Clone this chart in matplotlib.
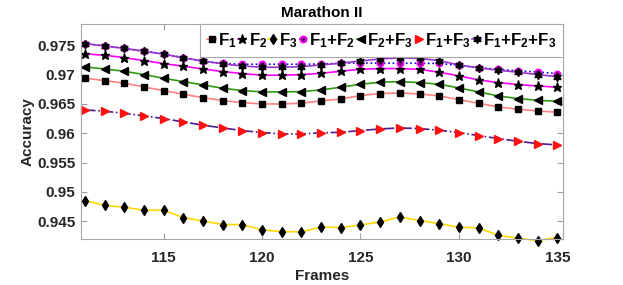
import matplotlib
matplotlib.use("Agg")
import matplotlib.pyplot as plt
from matplotlib.ticker import FixedLocator

plt.rcParams['font.family'] = ['Liberation Sans', 'DejaVu Sans']
plt.rcParams['font.weight'] = 'bold'
plt.rcParams['mathtext.fontset'] = 'custom'
plt.rcParams['mathtext.rm'] = 'Liberation Sans:bold'
plt.rcParams['mathtext.it'] = 'Liberation Sans:bold'
plt.rcParams['mathtext.bf'] = 'Liberation Sans:bold'
plt.rcParams['mathtext.default'] = 'bf'

frames = list(range(111, 136))

f1 = [0.96938, 0.96897, 0.96852, 0.96789, 0.96727, 0.96664, 0.96607, 0.96556,
      0.96522, 0.96499, 0.96499, 0.96511, 0.96551, 0.96585, 0.96641, 0.96676,
      0.96687, 0.96670, 0.96636, 0.96573, 0.96511, 0.96448, 0.96409, 0.96380,
      0.96357]
f2 = [0.97352, 0.97329, 0.97289, 0.97238, 0.97187, 0.97142, 0.97096, 0.97051,
      0.97017, 0.96988, 0.96988, 0.96999, 0.97022, 0.97056, 0.97090, 0.97102,
      0.97102, 0.97090, 0.97039, 0.96977, 0.96909, 0.96863, 0.96829, 0.96806,
      0.96784]
f3 = [0.94852, 0.94772, 0.94738, 0.94687, 0.94687, 0.94562, 0.94505, 0.94443,
      0.94443, 0.94352, 0.94323, 0.94318, 0.94403, 0.94392, 0.94437, 0.94488,
      0.94573, 0.94511, 0.94460, 0.94397, 0.94386, 0.94261, 0.94210, 0.94170,
      0.94221]
f12 = [0.97528, 0.97488, 0.97448, 0.97398, 0.97352, 0.97289, 0.97224, 0.97190,
       0.97176, 0.97176, 0.97176, 0.97176, 0.97181, 0.97193, 0.97198, 0.97193,
       0.97193, 0.97193, 0.97190, 0.97156, 0.97118, 0.97091, 0.97062, 0.97045,
       0.97016]
f23 = [0.97130, 0.97096, 0.97056, 0.96999, 0.96937, 0.96880, 0.96823, 0.96767,
       0.96727, 0.96704, 0.96704, 0.96710, 0.96738, 0.96784, 0.96835, 0.96869,
       0.96880, 0.96863, 0.96835, 0.96772, 0.96704, 0.96636, 0.96590, 0.96562,
       0.96545]
f13 = [0.96397, 0.96375, 0.96340, 0.96295, 0.96250, 0.96193, 0.96136, 0.96090,
       0.96045, 0.96011, 0.95988, 0.95988, 0.96005, 0.96017, 0.96045, 0.96073,
       0.96090, 0.96079, 0.96051, 0.96011, 0.95960, 0.95909, 0.95863, 0.95823,
       0.95801]
f123 = [0.97528, 0.97488, 0.97445, 0.97398, 0.97347, 0.97284, 0.97232, 0.97181,
        0.97147, 0.97125, 0.97125, 0.97135, 0.97164, 0.97193, 0.97232, 0.97266,
        0.97284, 0.97275, 0.97238, 0.97164, 0.97113, 0.97074, 0.97040, 0.96999,
        0.96965]

labels = ['F$_1$', 'F$_2$', 'F$_3$', 'F$_1$+F$_2$', 'F$_2$+F$_3$', 'F$_1$+F$_3$',
          'F$_1$+F$_2$+F$_3$']
xticks = [115, 120, 125, 130, 135]
yticks = [0.945, 0.95, 0.955, 0.96, 0.965, 0.97, 0.975]
yticklabels = ['0.945', '0.95', '0.955', '0.96', '0.965', '0.97', '0.975']

fig = plt.figure(figsize=(6.23, 2.85), dpi=100)
ax = fig.add_axes([0.130, 0.160, 0.774, 0.755])

lw = 1.2
kw = dict(clip_on=False)
ax.plot(frames, f1, color='#ff8080', lw=lw, marker='s', ms=3.8,
        mfc='black', mec='black', label=labels[0], **kw)
ax.plot(frames, f2, color='#ff00ff', lw=lw, marker='*', ms=6.5,
        mfc='black', mec='black', label=labels[1], **kw)
ax.plot(frames, f3, color='#ffd700', lw=lw, marker='d', ms=5,
        mfc='black', mec='black', label=labels[2], **kw)
ax.plot(frames, f12, color='#0000ff', lw=lw, ls=':', marker='o', ms=4.5,
        mfc='#7a007a', mec='#ff00ff', mew=1.2, label=labels[3], **kw)
ax.plot(frames, f23, color='#2e9a10', lw=lw, marker='<', ms=5.5,
        mfc='black', mec='black', label=labels[4], **kw)
ax.plot(frames, f13, color='#4b1a8f', lw=lw, ls='-.', marker='>', ms=5.5,
        mfc='#ff1010', mec='#ff1010', label=labels[5], **kw)
ax.plot(frames, f123, color='#9a30d0', lw=lw, marker=(6, 1, 0), ms=6,
        mfc='black', mec='black', label=labels[6], **kw)

ax.set_xlim(110.8, 135.3)
ax.set_ylim(0.9419, 0.97858)
ax.xaxis.set_major_locator(FixedLocator(xticks))
ax.set_xticklabels([str(t) for t in xticks])
ax.yaxis.set_major_locator(FixedLocator(yticks))
ax.set_yticklabels(yticklabels)
ax.tick_params(direction='in', top=True, right=True, length=4, width=0.8,
               color='#a0a0a0', labelsize=11, labelcolor='#262626')
ax.tick_params(axis='x', pad=8)
ax.tick_params(axis='y', pad=4)
for s in ax.spines.values():
    s.set_color('#a8a8a8')
    s.set_linewidth(0.8)

ax.set_title('Marathon II', fontsize=11, fontweight='bold', pad=5)
ax.set_xlabel('Frames', fontsize=11, fontweight='bold', color='#262626', labelpad=3)
ax.set_ylabel('Accuracy', fontsize=11, fontweight='bold', color='#262626', labelpad=2)

leg = ax.legend(loc='upper right', ncol=7, fontsize=12.2, frameon=True,
                handlelength=0.5, handletextpad=0.12, columnspacing=0.08,
                borderaxespad=0.0, borderpad=0.42, fancybox=False,
                edgecolor='#a8a8a8', framealpha=1)
leg.get_frame().set_linewidth(0.8)

fig.savefig('out.png', dpi=100)
